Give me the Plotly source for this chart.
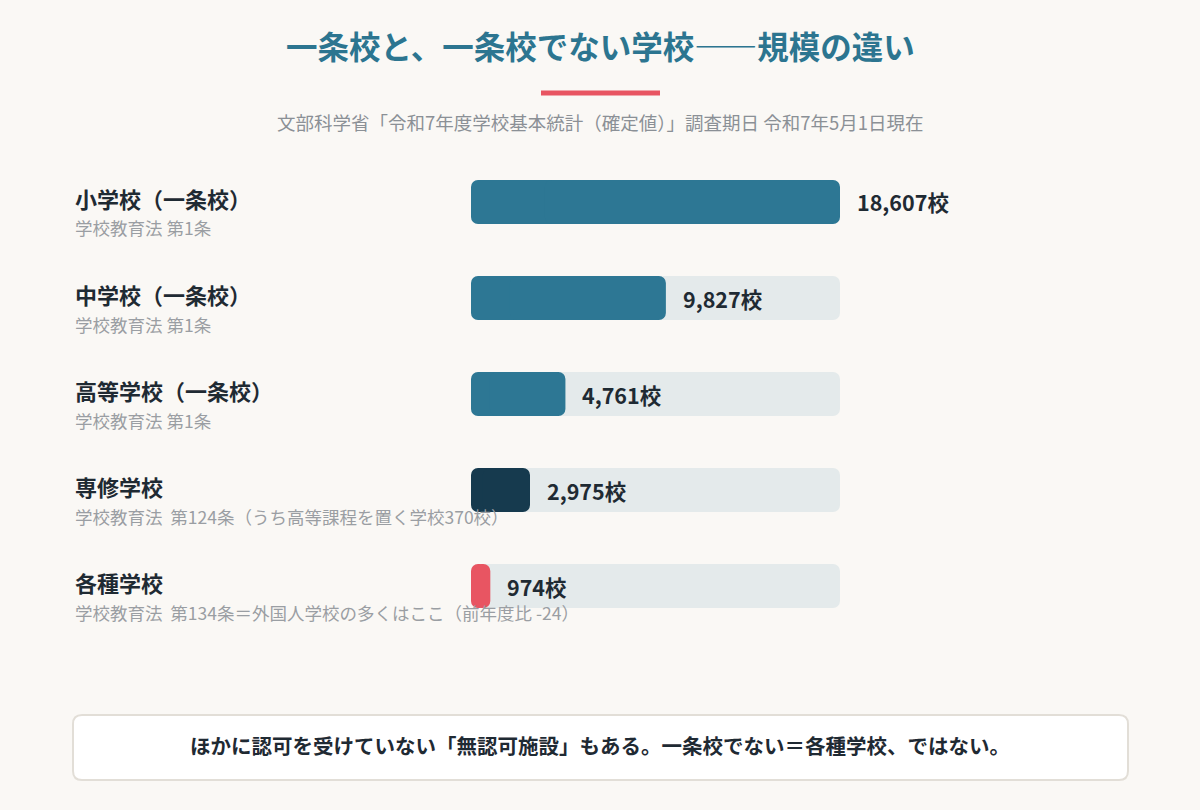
import plotly.graph_objects as go

# ---- data ----
categories = ["小学校（一条校）", "中学校（一条校）", "高等学校（一条校）", "専修学校", "各種学校"]
notes = ["学校教育法 第1条", "学校教育法 第1条", "学校教育法 第1条",
         "学校教育法  第124条（うち高等課程を置く学校370校）",
         "学校教育法  第134条＝外国人学校の多くはここ（前年度比 -24）"]
counts = [18607, 9827, 4761, 2975, 974]
value_labels = ["18,607校", "9,827校", "4,761校", "2,975校", "974校"]
bar_colors = ["#2d7794", "#2d7794", "#2d7794", "#163a4e", "#e85562"]

W, H = 1200, 810
FONT = "Noto Sans CJK JP"
BG = "#faf8f5"
TRACK = "#e4eaeb"

def px_x(p):
    return p / W

def px_y(p):
    return 1 - p / H

max_v = max(counts)
rows = list(range(len(categories)))
BW = 0.46
CR = 7

def rounded_bar(values, colors, hover):
    """Bar rounded on both ends: two overlapping pieces, each rounded at its outer end."""
    left_len = [v * 0.8 for v in values]
    right_base = [v * 0.2 for v in values]
    right_len = [v * 0.8 for v in values]
    left = go.Bar(x=[-l for l in left_len], base=left_len, y=rows, orientation="h",
                  marker=dict(color=colors, cornerradius=CR, line=dict(width=0)),
                  width=BW, showlegend=False, hoverinfo="skip")
    right = go.Bar(x=right_len, base=right_base, y=rows, orientation="h",
                   marker=dict(color=colors, cornerradius=CR, line=dict(width=0)),
                   width=BW, showlegend=False,
                   customdata=values,
                   hovertemplate="%{customdata:,}校<extra></extra>" if hover else None,
                   hoverinfo=None if hover else "skip")
    return [left, right]

fig = go.Figure()
for t in rounded_bar([max_v] * len(rows), [TRACK] * len(rows), False):
    fig.add_trace(t)
for t in rounded_bar(counts, bar_colors, True):
    fig.add_trace(t)

top_px, bot_px = 154, 634
fig.update_layout(
    width=W, height=H, barmode="overlay",
    paper_bgcolor=BG, plot_bgcolor=BG,
    margin=dict(l=0, r=0, t=0, b=0),
    font=dict(family=FONT, color="#1f2a33"),
    xaxis=dict(domain=[px_x(471), px_x(840)], range=[0, max_v],
               visible=False, fixedrange=True),
    yaxis=dict(domain=[px_y(bot_px), px_y(top_px)], range=[4.5, -0.5],
               visible=False, fixedrange=True),
    hovermode="closest",
)

ann = []
# title
ann.append(dict(text="<b>一条校と、一条校でない学校――規模の違い</b>",
                x=0.5, y=px_y(45), xref="paper", yref="paper",
                showarrow=False, font=dict(size=31.5, color="#2c7590", family=FONT),
                xanchor="center", yanchor="middle"))
ann.append(dict(text="文部科学省「令和7年度学校基本統計（確定値）」調査期日 令和7年5月1日現在",
                x=0.5, y=px_y(122), xref="paper", yref="paper",
                showarrow=False, font=dict(size=18.5, color="#8b9096", family=FONT),
                xanchor="center", yanchor="middle"))
for i, (c, n, lbl) in enumerate(zip(categories, notes, value_labels)):
    ann.append(dict(text=f"<b>{c}</b>", x=px_x(73), y=i, xref="paper", yref="y",
                    yshift=4, showarrow=False, xanchor="left", yanchor="middle",
                    font=dict(size=22, color="#1f2a33", family=FONT)))
    ann.append(dict(text=n, x=px_x(73), y=i, xref="paper", yref="y",
                    yshift=-26, showarrow=False, xanchor="left", yanchor="middle",
                    font=dict(size=17.5, color="#9a9ea3", family=FONT)))
    ann.append(dict(text=f"<b>{lbl}</b>", x=counts[i], y=i, xref="x", yref="y",
                    xshift=15, showarrow=False, xanchor="left", yanchor="middle",
                    font=dict(size=21.5, color="#1f2a33", family=FONT)))
# footer text
ann.append(dict(text="<b>ほかに認可を受けていない「無認可施設」もある。一条校でない＝各種学校、ではない。</b>",
                x=0.5, y=px_y(745), xref="paper", yref="paper",
                showarrow=False, font=dict(size=20.5, color="#1f2a33", family=FONT),
                xanchor="center", yanchor="middle"))
fig.update_layout(annotations=ann)

# red accent line
fig.add_shape(type="line", xref="paper", yref="paper",
              x0=px_x(541), x1=px_x(660), y0=px_y(93), y1=px_y(93),
              line=dict(color="#e85562", width=5))

# footer rounded box
def rounded_rect(x0, y0, x1, y1, r):
    rx, ry = r / W, r / H
    X0, X1 = px_x(x0), px_x(x1)
    Y0, Y1 = px_y(y0), px_y(y1)  # Y0 top, Y1 bottom
    return (f"M {X0+rx},{Y0} L {X1-rx},{Y0} Q {X1},{Y0} {X1},{Y0-ry} "
            f"L {X1},{Y1+ry} Q {X1},{Y1} {X1-rx},{Y1} "
            f"L {X0+rx},{Y1} Q {X0},{Y1} {X0},{Y1+ry} "
            f"L {X0},{Y0-ry} Q {X0},{Y0} {X0+rx},{Y0} Z")

fig.add_shape(type="path", xref="paper", yref="paper",
              path=rounded_rect(73, 715, 1128, 780, 9),
              fillcolor="#ffffff", line=dict(color="#e2ded7", width=2),
              layer="below")

fig.write_html(
    "out.html",
    config={"displayModeBar": False},
    post_script="document.body.style.margin='0';document.body.style.background='#faf8f5';"
)
